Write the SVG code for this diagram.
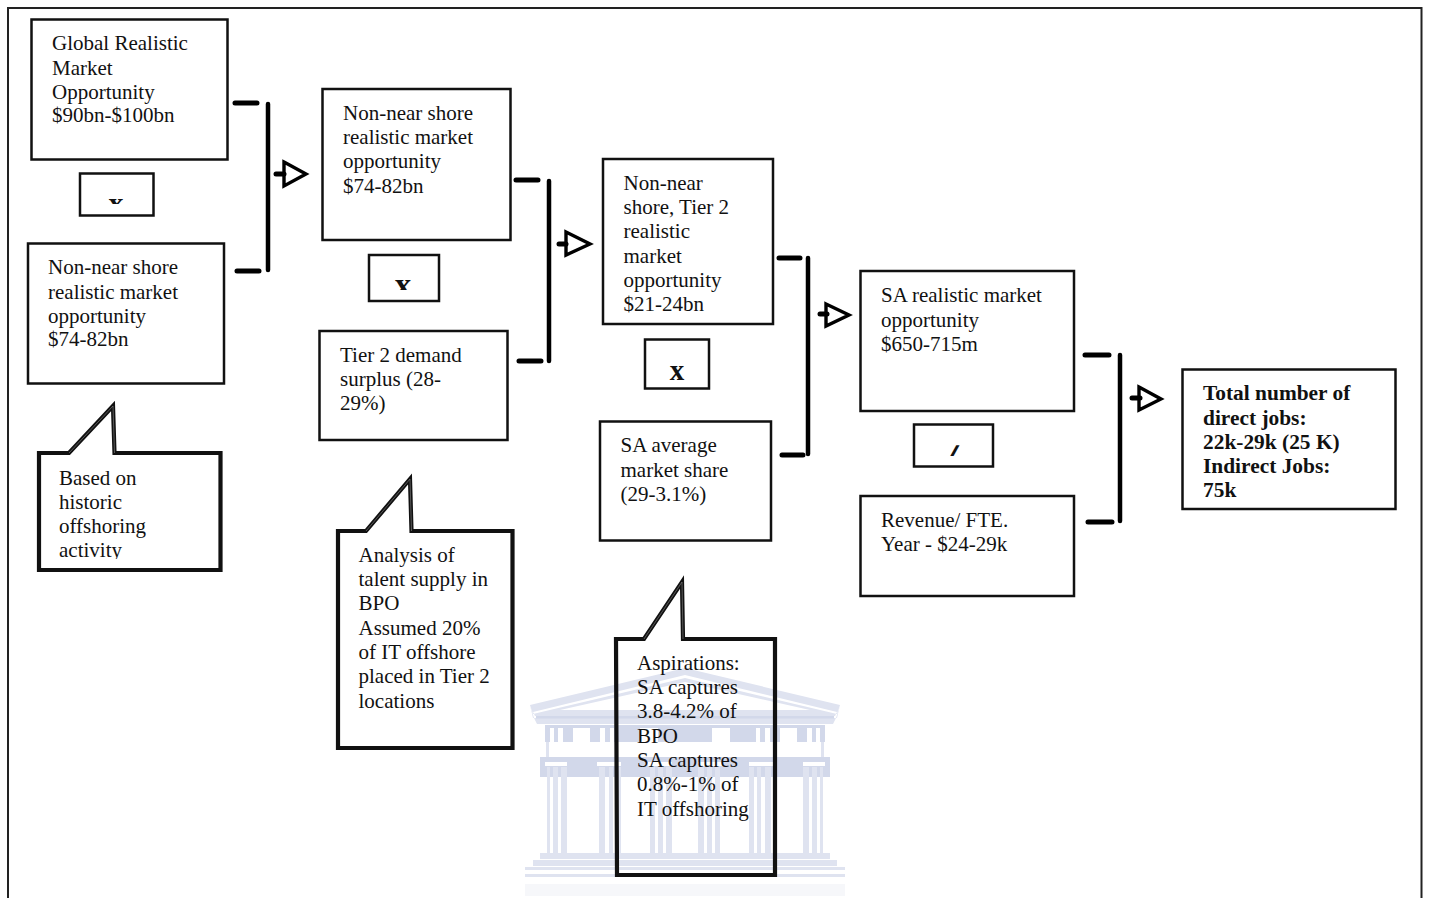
<svg xmlns="http://www.w3.org/2000/svg" xmlns:xlink="http://www.w3.org/1999/xlink" width="1430" height="898" viewBox="0 0 1430 898">
<style>
text{font-family:"Liberation Serif","Times New Roman",serif;font-size:21px;fill:#111}
.b{font-weight:bold;font-size:21.400px}
.box{fill:none;stroke:#111;stroke-width:2.500}
.call{fill:none;stroke:#111;stroke-width:4.200;stroke-linejoin:miter}
.in{fill:none;stroke:#888;stroke-width:.6}
.bar{stroke:#000;stroke-width:5;fill:none;stroke-linecap:round}
.v{stroke-width:4.500}
.head{fill:#fff;stroke:#000;stroke-width:3.400}
.wm{fill:#d2d8ea}
.wl{fill:#dfe3f0}
.ww{fill:#fff}
</style>
<defs>
<clipPath id="c1"><rect x="81" y="175" width="72" height="29"/></clipPath>
<clipPath id="c2"><rect x="370" y="256" width="68" height="34"/></clipPath>
<clipPath id="c3"><rect x="915" y="426" width="77" height="30"/></clipPath>
<clipPath id="c4"><rect x="40" y="455" width="178" height="104"/></clipPath>
<g id="half">
<path class="wl" d="M530 705L685 668V675L533 712L535 716H685V710H560L685 682V678L533 714Z"/>
<path class="wl" d="M530 705L533 718H685V724H537L534 718Z"/>
<rect class="wm" x="536" y="716" width="149" height="2.500"/>
<rect class="wm" x="545" y="725" width="140" height="17"/>
<path class="ww" d="M550 728h4v14h-4zM558 728h5v14h-5zM573 728h17v14h-17zM600 728h5v14h-5zM610 728h4v14h-4zM640 728h18v14h-18z"/>
<rect class="wl" x="546" y="742" width="3" height="15"/>
<rect class="wm" x="540" y="757" width="145" height="20"/>
<rect class="ww" x="545" y="762" width="22" height="4"/><rect class="ww" x="597" y="762" width="24" height="4"/><rect class="ww" x="648" y="762" width="24" height="4"/>
<path class="wl" d="M547 767h3v86h-3zM553 767h5v86h-5zM561 767h6v86h-6zM599 767h6v86h-6zM609 767h4v86h-4zM616 767h5v86h-5zM650 767h5v86h-5zM658 767h5v86h-5zM666 767h6v86h-6z"/>
<rect class="wl" x="540" y="853" width="145" height="6"/>
<rect class="wl" x="533" y="860" width="152" height="6"/>
<rect class="wl" x="525" y="867" width="160" height="3"/>
<rect class="wl" x="525" y="874" width="160" height="3"/>
<rect x="525" y="884" width="160" height="12" fill="#f6f7fa"/>
</g>
</defs>
<rect width="1430" height="898" fill="#fff"/>
<path d="M8 898V8H1421.500V898" fill="none" stroke="#222" stroke-width="2"/>
<g id="watermark">
<use xlink:href="#half" href="#half"/>
<use xlink:href="#half" href="#half" transform="matrix(-1 0 0 1 1370 0)"/>
</g>
<g id="connectors">
<path class="bar" d="M235 103H257M237 271H259"/><path class="bar v" d="M268 104V270"/>
<path class="head" d="M284 162L306 174L284 186Z"/><path class="bar" d="M276 174H284"/>
<path class="bar" d="M516 180H538M519 361H541"/><path class="bar v" d="M549 181V361"/>
<path class="head" d="M566 232L590 244L566 255Z"/><path class="bar" d="M559 244H566"/>
<path class="bar" d="M779 258H800M782 455H803"/><path class="bar v" d="M808 258V454"/>
<path class="head" d="M826 304L849 315L826 326Z"/><path class="bar" d="M820 314H827"/>
<path class="bar" d="M1085 355H1109M1088 522H1112"/><path class="bar v" d="M1120 355V521"/>
<path class="head" d="M1139 387L1161 399L1139 410Z"/><path class="bar" d="M1132 398H1140"/>
</g>
<g id="n1"><rect class="box" x="31.500" y="19.500" width="196" height="140"/><text x="52" y="50">Global Realistic</text><text x="52" y="74.500">Market</text><text x="52" y="99">Opportunity</text><text x="52" y="122">$90bn-$100bn</text></g>
<g id="op1"><rect class="box" x="80" y="173.500" width="73.500" height="42"/><text class="b" x="116" y="213" text-anchor="middle" clip-path="url(#c1)" style="font-size:30px">x</text></g>
<g id="n2"><rect class="box" x="28" y="243.500" width="196" height="140"/><text x="48" y="274">Non-near shore</text><text x="48" y="299">realistic market</text><text x="48" y="323">opportunity</text><text x="48" y="346">$74-82bn</text></g>
<g id="c-a"><path class="call" d="M39 453H69L113 406L114.500 453H220.500V570H39Z"/><path class="in" d="M69 453L113 406L114.500 453"/><text x="59" y="485">Based on</text><text x="59" y="509">historic</text><text x="59" y="533">offshoring</text><text x="59" y="557" clip-path="url(#c4)">activity</text></g>
<g id="n3"><rect class="box" x="322.500" y="89" width="188" height="151"/><text x="343" y="120">Non-near shore</text><text x="343" y="144">realistic market</text><text x="343" y="168">opportunity</text><text x="343" y="193">$74-82bn</text></g>
<g id="op2"><rect class="box" x="369" y="255" width="70" height="46"/><text class="b" x="403" y="296" text-anchor="middle" clip-path="url(#c2)" style="font-size:33px">x</text></g>
<g id="n4"><rect class="box" x="319.500" y="331" width="188" height="109"/><text x="340" y="362">Tier 2 demand</text><text x="340" y="386">surplus (28-</text><text x="340" y="410">29%)</text></g>
<g id="c-b"><path class="call" d="M338 531H366L410 479L411.500 531H512.500V748H338Z"/><path class="in" d="M366 531L410 479L411.500 531"/><text x="358.500" y="562">Analysis of</text><text x="358.500" y="586">talent supply in</text><text x="358.500" y="610">BPO</text><text x="358.500" y="635">Assumed 20%</text><text x="358.500" y="659">of IT offshore</text><text x="358.500" y="683">placed in Tier 2</text><text x="358.500" y="708">locations</text></g>
<g id="n5"><rect class="box" x="603" y="159" width="170" height="165"/><text x="623.500" y="190">Non-near</text><text x="623.500" y="214">shore, Tier 2</text><text x="623.500" y="238">realistic</text><text x="623.500" y="263">market</text><text x="623.500" y="287">opportunity</text><text x="623.500" y="311">$21-24bn</text></g>
<g id="op3"><rect class="box" x="645" y="339.500" width="64" height="49"/><text class="b" x="677" y="380" text-anchor="middle" style="font-size:29px">x</text></g>
<g id="n6"><rect class="box" x="600" y="421.500" width="171" height="119"/><text x="620.500" y="452">SA average</text><text x="620.500" y="477">market share</text><text x="620.500" y="501">(29-3.1%)</text></g>
<g id="c-c"><path class="call" d="M616 639H644L682 582L683 639H775V875H617Z"/><path class="in" d="M644 639L682 582L683 639"/><text x="637" y="670">Aspirations:</text><text x="637" y="694">SA captures</text><text x="637" y="718">3.8-4.2% of</text><text x="637" y="743">BPO</text><text x="637" y="767">SA captures</text><text x="637" y="791">0.8%-1% of</text><text x="637" y="816">IT offshoring</text></g>
<g id="n7"><rect class="box" x="860.500" y="271" width="213.500" height="140"/><text x="881" y="302">SA realistic market</text><text x="881" y="327">opportunity</text><text x="881" y="351">$650-715m</text></g>
<g id="op4"><rect class="box" x="914" y="424.500" width="79" height="42"/><text class="b" x="953" y="461" text-anchor="middle" clip-path="url(#c3)" style="font-size:24px;font-style:italic;stroke:#111;stroke-width:1.400px">/</text></g>
<g id="n8"><rect class="box" x="860.500" y="496" width="213.500" height="100"/><text x="881" y="527">Revenue/ FTE.</text><text x="881" y="551">Year - $24-29k</text></g>
<g id="n9"><rect class="box" x="1182.500" y="369.500" width="213" height="139.500"/><text class="b" x="1203" y="400">Total number of</text><text class="b" x="1203" y="425">direct jobs:</text><text class="b" x="1203" y="449">22k-29k (25 K)</text><text class="b" x="1203" y="473">Indirect Jobs:</text><text class="b" x="1203" y="497">75k</text></g>
</svg>
